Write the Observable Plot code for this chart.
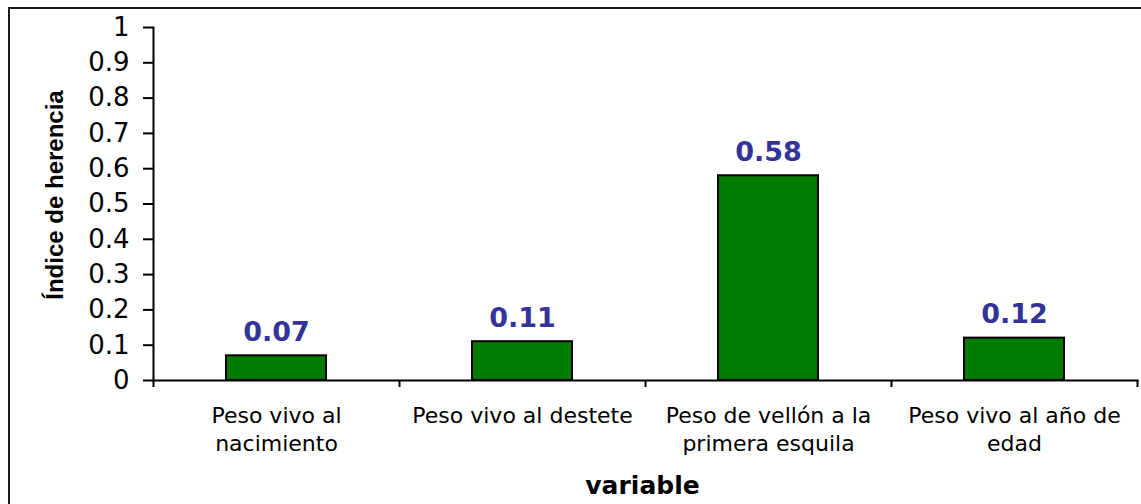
<!DOCTYPE html>
<html>
<head>
<meta charset="utf-8">
<script src="https://cdn.jsdelivr.net/npm/d3@7"></script>
<script src="https://cdn.jsdelivr.net/npm/@observablehq/plot@0.6"></script>
<style>
  html, body { margin: 0; padding: 0; background: #fff; overflow: hidden; }
  #wrap { position: relative; width: 1141px; height: 504px; }
  #border { position: absolute; left: 8px; top: 7px; width: 1300px; height: 700px;
            border-left: 2px solid #1a1a1a; border-top: 2px solid #1a1a1a; pointer-events: none; }
</style>
</head>
<body>
<div id="wrap"><div id="border"></div></div>
<script>
const categories = ["Peso vivo al nacimiento", "Peso vivo al destete", "Peso de vellón a la primera esquila", "Peso vivo al año de edad"];
const categoryLabels = ["Peso vivo al\nnacimiento", "Peso vivo al destete", "Peso de vellón a la\nprimera esquila", "Peso vivo al año de\nedad"];
const values = [0.07, 0.11, 0.58, 0.12];
const valueLabels = ["0.07", "0.11", "0.58", "0.12"];
const yTicks = [0, 0.1, 0.2, 0.3, 0.4, 0.5, 0.6, 0.7, 0.8, 0.9, 1];
const yTickLabels = ["0", "0.1", "0.2", "0.3", "0.4", "0.5", "0.6", "0.7", "0.8", "0.9", "1"];
const yTitle = "Índice de herencia";
const xTitle = "variable";

const data = categories.map((c, i) => ({cat: c, value: values[i], label: valueLabels[i], tick: categoryLabels[i]}));

const W = 1141, H = 504;
const mL = 153, mR = 4, mT = 27, mB = 124;
const step = (W - mL - mR) / categories.length;

const chart = Plot.plot({
  width: W,
  height: H,
  marginLeft: mL,
  marginRight: mR,
  marginTop: mT,
  marginBottom: mB,
  style: {background: "transparent", fontFamily: "'DejaVu Sans', sans-serif", color: "#000", overflow: "visible"},
  x: {domain: categories, padding: 0, axis: null},
  y: {domain: [0, 1], axis: null},
  marks: [
    Plot.barY(data, {x: "cat", y: "value", fill: "#007b00", stroke: "#000", strokeWidth: 2, insetLeft: 73, insetRight: 73}),
    Plot.frame({anchor: "left", stroke: "#000", strokeWidth: 2}),
    Plot.frame({anchor: "bottom", stroke: "#000", strokeWidth: 2}),
    Plot.axisY({ticks: yTicks, tickFormat: (d) => yTickLabels[yTicks.indexOf(d)], tickSize: 10, tickPadding: 14,
                fontSize: 26, strokeWidth: 2, label: null, fill: "#000"}),
    Plot.ruleX(data, {x: "cat", y1: 0, y2: 0, insetBottom: -7, dx: -step / 2, stroke: "#000", strokeWidth: 2}),
    Plot.ruleX([data[data.length - 1]], {x: "cat", y1: 0, y2: 0, insetBottom: -7, dx: step / 2, stroke: "#000", strokeWidth: 2}),
    Plot.text(data, {x: "cat", y: 0, text: "tick", lineAnchor: "top", dy: 23, lineHeight: 1.27, fontSize: 22, fill: "#000"}),
    Plot.text(data, {x: "cat", y: "value", text: "label", lineAnchor: "bottom", dy: -15, fontSize: 27, fontWeight: "bold", fill: "#33339a"}),
    Plot.text([yTitle], {frameAnchor: "left", textAnchor: "middle", rotate: -90, dx: -91, dy: -9, lineAnchor: "bottom", fontSize: 24, fontWeight: "bold",
                         fontFamily: "'Liberation Sans', Arial, sans-serif", fill: "#000"}),
    Plot.text([xTitle], {frameAnchor: "bottom", dy: 113, lineAnchor: "bottom", fontSize: 25, fontWeight: "bold", fill: "#000", dx: -3})
  ]
});

document.getElementById("wrap").insertBefore(chart, document.getElementById("border"));
</script>
</body>
</html>
